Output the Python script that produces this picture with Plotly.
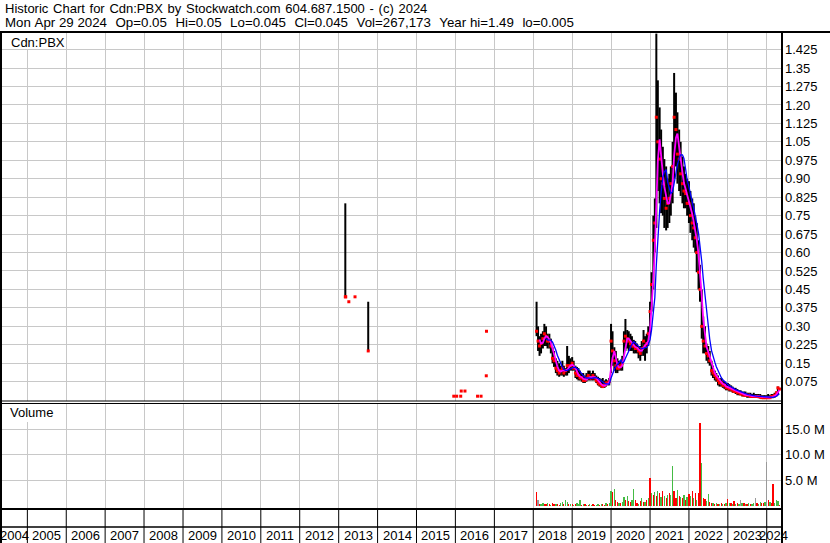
import plotly.graph_objects as go
import pandas as pd

W, H = 830, 543


def px_x(x):
    return x / W


def px_y(y):
    return 1 - y / H


TITLE1 = "Historic Chart for Cdn:PBX by Stockwatch.com 604.687.1500 - (c) 2024"
TITLE2 = "Mon Apr 29 2024  Op=0.05  Hi=0.05  Lo=0.045  Cl=0.045  Vol=267,173  Year hi=1.49  lo=0.005"
SYMBOL = "Cdn:PBX"
VOL_LABEL = "Volume"

# ---- early, sparse trades
early_dates = ["2013-03-04", "2013-03-08", "2013-04-06", "2013-06-03", "2013-10-05",
               "2015-12-17", "2016-01-13", "2016-02-20", "2016-02-25", "2016-03-31",
               "2016-07-27", "2016-08-29", "2016-10-17", "2016-10-19"]
early_high = [0.80, 0.42, 0.40, 0.42, 0.40, 0.016, 0.016, 0.016, 0.037, 0.037, 0.016, 0.016, 0.099, 0.28]
early_low = [0.42, 0.42, 0.40, 0.42, 0.20, 0.016, 0.016, 0.016, 0.037, 0.037, 0.016, 0.016, 0.099, 0.28]
early_close = [0.42, 0.42, 0.40, 0.42, 0.20, 0.016, 0.016, 0.016, 0.037, 0.037, 0.016, 0.016, 0.099, 0.28]

# ---- main series (semi-monthly, Feb 2018 .. Apr 2024)
dates = list(pd.date_range("2018-02-01", "2024-04-15", freq="SMS").strftime("%Y-%m-%d")) + ["2024-04-29"]

high = [
    # 2018 Feb-Dec
    0.40, 0.30, 0.26, 0.27, 0.28, 0.31, 0.30, 0.27, 0.27, 0.25, 0.215, 0.20, 0.17, 0.16, 0.15, 0.14, 0.16, 0.14, 0.13, 0.22, 0.18, 0.17,
    # 2019
    0.175, 0.16, 0.14, 0.135, 0.13, 0.12, 0.11, 0.11, 0.10, 0.11, 0.12, 0.12, 0.11, 0.12, 0.11, 0.10, 0.095, 0.09, 0.085, 0.09, 0.08, 0.085, 0.08, 0.09,
    # 2020
    0.31, 0.28, 0.215, 0.20, 0.17, 0.16, 0.16, 0.18, 0.28, 0.33, 0.285, 0.28, 0.27, 0.26, 0.245, 0.24, 0.23, 0.22, 0.22, 0.24, 0.285, 0.26, 0.27, 0.30,
    # 2021
    0.40, 0.52, 0.75, 0.82, 1.49, 1.30, 1.19, 1.10, 1.03, 0.98, 0.95, 0.90, 0.92, 0.95, 1.05, 1.33, 1.25, 1.17, 1.10, 1.05, 0.99, 0.95, 0.92, 0.90,
    # 2022
    0.89, 0.85, 0.82, 0.80, 0.75, 0.72, 0.65, 0.55, 0.45, 0.34, 0.30, 0.23, 0.22, 0.20, 0.16, 0.14, 0.12, 0.11, 0.10, 0.09, 0.09, 0.08, 0.075, 0.07,
    # 2023
    0.07, 0.065, 0.06, 0.055, 0.05, 0.05, 0.045, 0.04, 0.04, 0.035, 0.035, 0.035, 0.03, 0.03, 0.03, 0.025, 0.03, 0.025, 0.025, 0.025, 0.025, 0.02, 0.02, 0.02,
    # 2024
    0.02, 0.025, 0.02, 0.025, 0.025, 0.03, 0.035, 0.055, 0.05,
]
low = [
    0.26, 0.20, 0.18, 0.19, 0.21, 0.22, 0.22, 0.21, 0.21, 0.19, 0.15, 0.135, 0.11, 0.10, 0.095, 0.10, 0.10, 0.095, 0.10, 0.10, 0.11, 0.12,
    0.12, 0.12, 0.09, 0.085, 0.08, 0.08, 0.075, 0.07, 0.07, 0.075, 0.08, 0.08, 0.08, 0.08, 0.08, 0.07, 0.06, 0.055, 0.05, 0.05, 0.05, 0.055, 0.06, 0.06,
    0.11, 0.14, 0.12, 0.11, 0.11, 0.12, 0.12, 0.12, 0.18, 0.20, 0.21, 0.20, 0.20, 0.20, 0.19, 0.19, 0.19, 0.17, 0.16, 0.18, 0.18, 0.16, 0.19, 0.22,
    0.26, 0.36, 0.45, 0.60, 0.70, 0.85, 0.80, 0.76, 0.75, 0.70, 0.69, 0.70, 0.72, 0.75, 0.80, 0.90, 0.95, 0.88, 0.85, 0.83, 0.80, 0.78, 0.78, 0.75,
    0.72, 0.68, 0.65, 0.62, 0.60, 0.52, 0.45, 0.40, 0.25, 0.19, 0.19, 0.16, 0.15, 0.14, 0.10, 0.09, 0.08, 0.075, 0.06, 0.055, 0.055, 0.05, 0.045, 0.04,
    0.04, 0.035, 0.035, 0.03, 0.03, 0.025, 0.02, 0.02, 0.02, 0.015, 0.015, 0.015, 0.01, 0.01, 0.01, 0.01, 0.01, 0.01, 0.01, 0.008, 0.008, 0.005, 0.005, 0.005,
    0.005, 0.005, 0.005, 0.008, 0.008, 0.01, 0.015, 0.02, 0.045,
]
close = [
    0.28, 0.24, 0.22, 0.23, 0.25, 0.27, 0.26, 0.24, 0.24, 0.22, 0.17, 0.16, 0.13, 0.12, 0.11, 0.12, 0.13, 0.11, 0.12, 0.14, 0.14, 0.14,
    0.15, 0.13, 0.11, 0.10, 0.10, 0.09, 0.09, 0.08, 0.08, 0.09, 0.10, 0.09, 0.09, 0.10, 0.09, 0.08, 0.07, 0.065, 0.06, 0.055, 0.06, 0.07, 0.07, 0.075,
    0.24, 0.20, 0.16, 0.14, 0.13, 0.13, 0.14, 0.15, 0.24, 0.26, 0.25, 0.24, 0.23, 0.22, 0.22, 0.21, 0.21, 0.20, 0.19, 0.21, 0.24, 0.22, 0.23, 0.27,
    0.36, 0.47, 0.65, 0.72, 1.15, 1.05, 0.98, 0.90, 0.88, 0.82, 0.78, 0.80, 0.82, 0.88, 0.95, 1.15, 1.10, 1.00, 0.98, 0.92, 0.88, 0.85, 0.84, 0.80,
    0.80, 0.75, 0.72, 0.70, 0.66, 0.60, 0.52, 0.45, 0.30, 0.24, 0.22, 0.19, 0.18, 0.16, 0.12, 0.11, 0.10, 0.09, 0.08, 0.07, 0.07, 0.06, 0.06, 0.05,
    0.05, 0.045, 0.045, 0.04, 0.035, 0.035, 0.03, 0.03, 0.025, 0.025, 0.02, 0.02, 0.02, 0.02, 0.015, 0.015, 0.015, 0.015, 0.015, 0.015, 0.012, 0.01, 0.01, 0.01,
    0.01, 0.01, 0.01, 0.015, 0.015, 0.02, 0.03, 0.05, 0.045,
]
# volume in millions of shares, direction: 1 up, -1 down, 0 unchanged
volume = [
    2.7, 1.1, 0.4, 0.3, 0.5, 0.3, 0.4, 0.6, 0.3, 0.2, 0.5, 0.3, 0.3, 0.4, 0.2, 0.5, 0.7, 0.4, 1.2, 0.8, 0.4, 0.3,
    0.3, 0.2, 0.4, 0.6, 0.3, 1.2, 0.2, 0.4, 0.3, 0.2, 0.2, 0.3, 0.2, 0.3, 0.1, 0.2, 0.4, 0.2, 0.3, 0.3, 0.2, 0.5, 0.4, 0.6,
    3.0, 2.7, 3.3, 1.2, 0.8, 0.6, 0.5, 0.8, 1.8, 1.2, 2.0, 1.0, 0.8, 1.2, 3.3, 1.2, 0.6, 0.4, 1.0, 1.5, 0.8, 0.7, 1.2, 1.5,
    5.4, 2.6, 2.2, 2.8, 2.0, 3.0, 2.5, 1.8, 3.0, 2.0, 1.5, 2.2, 2.5, 2.2, 7.8, 3.0, 1.5, 3.2, 2.0, 1.8, 1.5, 2.2, 1.2, 1.8,
    2.4, 2.0, 3.0, 1.5, 2.5, 1.2, 2.5, 16.2, 8.4, 1.5, 1.3, 0.9, 2.3, 0.8, 0.5, 0.6, 0.4, 0.5, 0.4, 0.3, 0.6, 0.3, 0.4, 0.5,
    1.4, 0.6, 0.5, 0.4, 1.0, 0.3, 0.6, 0.4, 1.2, 0.5, 0.5, 0.4, 0.3, 0.5, 0.4, 0.3, 0.5, 1.6, 0.6, 0.4, 0.7, 0.5, 0.6, 0.8,
    8.5, 1.2, 0.8, 0.5, 4.3, 0.6, 1.1, 1.0, 0.27,
]
direction = [
    -1, 0, -1, 1, 1, -1, -1, 1, -1, 1, -1, -1, 1, -1, -1, 1, 1, -1, 1, 1, -1, 1,
    -1, 1, -1, 1, 1, 1, -1, 1, -1, 1, -1, 1, 1, -1, -1, 1, 1, -1, 1, -1, -1, 1, -1, 1,
    1, -1, 1, -1, -1, 1, -1, 1, 1, -1, 1, -1, -1, 1, 1, -1, -1, 1, -1, 1, -1, 1, -1, 1,
    -1, 1, -1, 1, -1, 1, -1, 1, -1, 1, -1, 1, -1, 1, 1, -1, -1, 1, -1, 1, -1, 1, -1, 1,
    -1, 1, -1, 1, -1, 1, -1, -1, 1, -1, -1, 1, 1, -1, -1, 1, -1, 1, -1, 1, -1, 1, -1, 1,
    -1, 1, -1, 1, -1, 1, -1, 1, 0, 1, -1, 1, -1, 1, -1, 1, 1, 0, -1, 1, 1, -1, -1, 1,
    0, -1, 1, -1, -1, 1, 1, 1, -1,
]

assert len(dates) == len(high) == len(low) == len(close) == len(volume) == len(direction)

years = list(range(2004, 2025))
price_tick_labels = ["0.075", "0.15", "0.225", "0.30", "0.375", "0.45", "0.525", "0.60", "0.675", "0.75",
                     "0.825", "0.90", "0.975", "1.05", "1.125", "1.20", "1.275", "1.35", "1.425"]
vol_tick_labels = ["5.0 M", "10.0 M", "15.0 M"]
vol_tick_values = [5, 10, 15]

X_RANGE = ["2004-05-08", "2024-05-14"]
FONT = "Liberation Sans, Arial, sans-serif"

# ---- geometry (pixels)
PANEL_L, PANEL_R = 2, 781
PRICE_T, PRICE_B = 32, 401
VOL_T, VOL_B = 403, 509
STRIP_B = 527

fig = go.Figure()

all_dates = early_dates + dates
all_high = early_high + high
all_low = early_low + low
all_close = early_close + close

bx, by = [], []
for d, h, l in zip(all_dates, all_high, all_low):
    if h > l:
        bx += [d, d, None]
        by += [l, h, None]

fig.add_trace(go.Scatter(x=bx, y=by, mode="lines", line=dict(color="black", width=2),
                         xaxis="x", yaxis="y", hoverinfo="skip", connectgaps=False))
fig.add_trace(go.Scatter(x=all_dates, y=all_close, mode="markers",
                         marker=dict(symbol="square", size=3, color="#ff0000", line=dict(width=0)),
                         xaxis="x", yaxis="y", hoverinfo="skip"))

cs = pd.Series(close)
ma_short = cs.rolling(3).mean()
ma_long = cs.rolling(7).mean()
fig.add_trace(go.Scatter(x=dates, y=ma_short, mode="lines", line=dict(color="#ff00ff", width=1.8),
                         xaxis="x", yaxis="y", hoverinfo="skip"))
fig.add_trace(go.Scatter(x=dates, y=ma_long, mode="lines", line=dict(color="#0000ff", width=1.3),
                         xaxis="x", yaxis="y", hoverinfo="skip"))

dir_colors = {1: "#44bb44", -1: "#ff0000", 0: "#9a9a9a"}
fig.add_trace(go.Bar(x=dates, y=volume, marker=dict(color=[dir_colors[d] for d in direction], line=dict(width=0)),
                     width=[12 * 86400000] * len(dates), xaxis="x2", yaxis="y2", hoverinfo="skip"))

year_starts = [f"{y}-01-01" for y in years[1:]]
grid = "#c8c8c8"
xaxis_common = dict(range=X_RANGE, type="date", tickvals=year_starts, showticklabels=False, ticks="",
                    showgrid=True, gridcolor=grid, gridwidth=1, zeroline=False, showline=False,
                    domain=[px_x(PANEL_L), px_x(PANEL_R)])

fig.update_layout(
    width=W, height=H, margin=dict(l=0, r=0, t=0, b=0),
    paper_bgcolor="white", plot_bgcolor="white", showlegend=False, bargap=0,
    font=dict(family=FONT, size=13, color="black"),
    xaxis=dict(anchor="y", **xaxis_common),
    xaxis2=dict(anchor="y2", matches="x", **xaxis_common),
    yaxis=dict(domain=[px_y(PRICE_B), px_y(PRICE_T)], range=[-0.0035, 1.4965], side="right",
               tickvals=[float(s) for s in price_tick_labels], ticktext=price_tick_labels,
               ticks="", showgrid=True, gridcolor=grid, gridwidth=1, zeroline=False, showline=False,
               tickfont=dict(family=FONT, size=13, color="black"), ticklabelstandoff=3),
    yaxis2=dict(domain=[px_y(VOL_B), px_y(VOL_T)], range=[-0.6, 20.08], side="right",
                tickvals=vol_tick_values, ticktext=vol_tick_labels,
                ticks="", showgrid=True, gridcolor=grid, gridwidth=1, zeroline=False, showline=False,
                tickfont=dict(family=FONT, size=13, color="black"), ticklabelstandoff=3),
)

shapes = []


def hline(y, x0, x1, w):
    shapes.append(dict(type="line", xref="paper", yref="paper", x0=px_x(x0), x1=px_x(x1),
                       y0=px_y(y), y1=px_y(y), line=dict(color="black", width=w), layer="above"))


def vline(x, y0, y1, w):
    shapes.append(dict(type="line", xref="paper", yref="paper", x0=px_x(x), x1=px_x(x),
                       y0=px_y(y0), y1=px_y(y1), line=dict(color="black", width=w), layer="above"))


# label boxes (white) over grid
shapes.append(dict(type="rect", xref="paper", yref="paper", x0=px_x(PANEL_L), x1=px_x(65),
                   y0=px_y(49), y1=px_y(PRICE_T), fillcolor="white", line=dict(width=0), layer="above"))
shapes.append(dict(type="rect", xref="paper", yref="paper", x0=px_x(PANEL_L), x1=px_x(65),
                   y0=px_y(422), y1=px_y(VOL_T), fillcolor="white", line=dict(width=0), layer="above"))

# year separators below volume panel
for ys in year_starts:
    shapes.append(dict(type="line", xref="x", yref="paper", x0=ys, x1=ys, y0=px_y(VOL_B), y1=px_y(H),
                       line=dict(color="black", width=1), layer="above"))

hline(32, 0, W, 2)
hline(PRICE_B, PANEL_L, PANEL_R, 1)
hline(VOL_T + 0.5, PANEL_L, PANEL_R, 1)
hline(VOL_B, 0, PANEL_R + 1, 2)
hline(STRIP_B, 0, PANEL_R + 1, 1.5)
vline(1, 32, H, 2)
vline(PANEL_R + 1, 32, H, 2)

annotations = [
    dict(text=TITLE1.replace(" ", "\u00a0\u200a"), xref="paper", yref="paper", x=px_x(3), y=px_y(8.5),
         xanchor="left", yanchor="middle", showarrow=False, font=dict(size=13)),
    dict(text=TITLE2.replace("  ", "\u00a0\u00a0\u200a").replace(" ", "\u00a0"), xref="paper", yref="paper",
         x=px_x(3), y=px_y(22.5), xanchor="left", yanchor="middle", showarrow=False, font=dict(size=13.3)),
    dict(text=SYMBOL, xref="paper", yref="paper", x=px_x(9), y=px_y(42), xanchor="left", yanchor="middle",
         showarrow=False, font=dict(size=13)),
    dict(text=VOL_LABEL, xref="paper", yref="paper", x=px_x(8), y=px_y(413), xanchor="left", yanchor="middle",
         showarrow=False, font=dict(size=13)),
]

x0 = pd.Timestamp(X_RANGE[0])
x1 = pd.Timestamp(X_RANGE[1])
for y in years:
    a = max(pd.Timestamp(f"{y}-01-01"), x0)
    b = min(pd.Timestamp(f"{y + 1}-01-01"), x1)
    mid = a + (b - a) / 2
    annotations.append(dict(text=str(y), xref="x", yref="paper", x=mid.strftime("%Y-%m-%d %H:%M"),
                            y=px_y(535), xanchor="center", yanchor="middle", showarrow=False,
                            font=dict(size=13)))

fig.update_layout(shapes=shapes, annotations=annotations)
fig.write_html("out.html", config={"displayModeBar": False, "staticPlot": True},
               post_script="document.body.style.margin='0';document.body.style.overflow='hidden';")
